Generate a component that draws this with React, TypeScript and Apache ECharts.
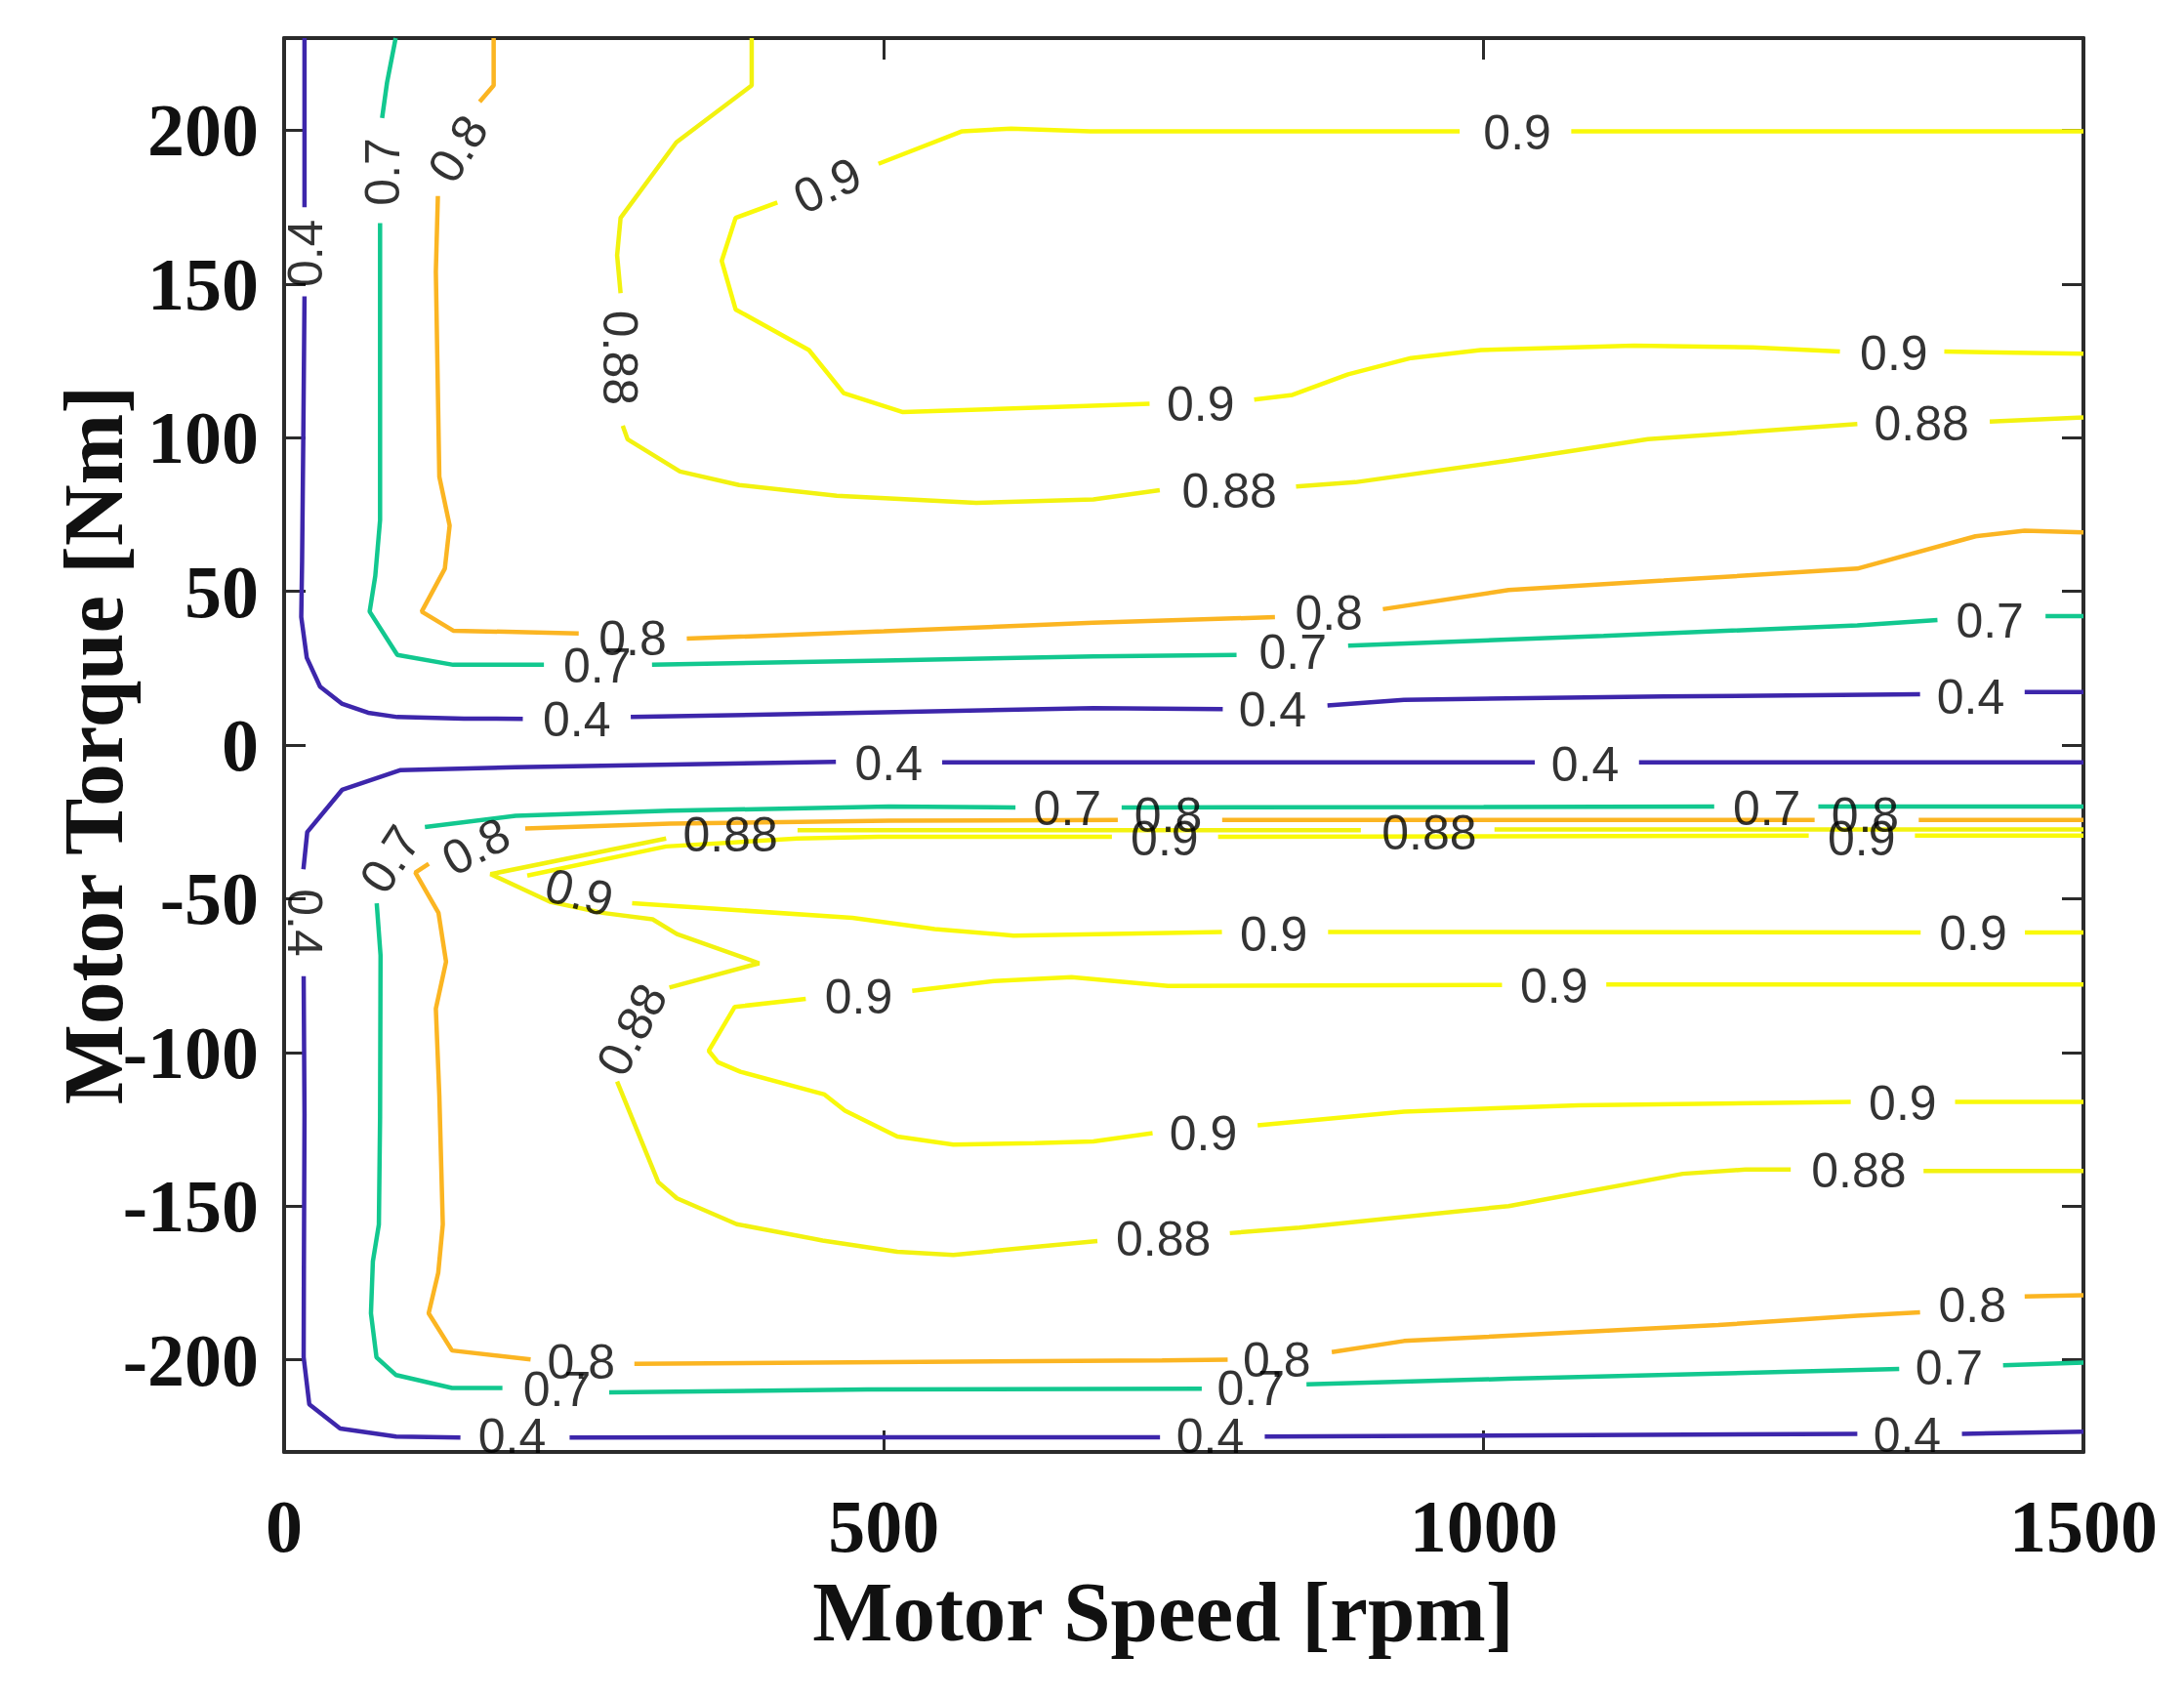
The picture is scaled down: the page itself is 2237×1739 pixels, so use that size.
import { useEffect, useRef } from "react";
import * as echarts from "echarts";

// gap in a contour line (where MATLAB puts the inline label)
const GAP = ["-", "-"];

// contour lines, [speed rpm, torque Nm]
const eff040Upper = [[17, 230], [17, 175], GAP, [17, 146], [16, 100], [15, 60], [14.3, 41.6], [18.9, 28.4], [30, 19], [48, 13.5], [70, 10.5], [94.4, 9.1], [150, 8.6], [199, 8.5], GAP, [289, 9.1], [480, 10.5], [674.6, 12], [782.5, 11.7], GAP, [869.8, 12.9], [933.6, 14.7], [1150, 15.8], [1363.8, 16.5], GAP, [1451, 17.2], [1500, 17.2]];
const eff040Lower = [[1500, -5.6], [1129.5, -5.6], GAP, [1042.6, -5.6], [548.6, -5.6], GAP, [460, -5.5], [193, -7.2], [96.5, -8.2], [48.3, -14.6], [19.3, -28.3], [16.1, -40.4], GAP, [16.3, -75.2], [17, -120], [16.5, -170], [16.3, -199.2], [21, -214.5], [46.7, -222.4], [93.4, -225], [147, -225.3], GAP, [238, -225.3], [730.2, -225.2], GAP, [817.5, -225], [1311.5, -224.1], GAP, [1398.7, -224.1], [1500, -223.4]];

const eff070Upper = [[93, 230], [85.8, 215.5], [81.7, 204], GAP, [80, 169.8], [80, 120], [80, 73.2], [76, 55], [71.3, 43.4], [94.4, 29.3], [141, 26.1], [216.6, 26.1], GAP, [306.7, 26.1], [500, 27.5], [674.6, 28.8], [794, 29.3], GAP, [887, 32.3], [1100, 35.5], [1311.5, 38.9], [1378.3, 40.7], GAP, [1468.4, 41.9], [1500, 41.9]];
const eff070Lower = [[1500, -20], [1279, -20], GAP, [1192.2, -20], [1000, -20.2], [698.2, -20.3], GAP, [609.7, -20.3], [504.4, -20], [321.7, -21.4], [193, -23], [117.4, -26.7], GAP, [77.2, -51.5], [80.4, -68.4], [80, -121], [79, -156], [74, -168], [72.4, -184.9], [77, -199.2], [93.4, -205], [140, -209.2], [182, -209.2], GAP, [271, -210.6], [486, -209.7], [765, -209.4], GAP, [852.3, -208], [1020.8, -206.2], [1346.4, -203], GAP, [1433, -201.8], [1500, -200.9]];

const eff080Upper = [[174.7, 230], [174.7, 214.6], [163, 209.3], GAP, [128.2, 178.6], [126.5, 154], [129.4, 87.3], [138, 71.4], [134, 57.4], [114.7, 43.4], [141, 37.2], [245.6, 36.3], GAP, [335.7, 34.6], [500, 37], [674.6, 39.8], [826, 41.6], GAP, [916, 44.2], [1020.8, 50.4], [1150, 53.5], [1311.5, 57.4], [1410, 67.9], [1451, 69.7], [1500, 69.2]];
const eff080Lower = [[1500, -24.4], [1362.7, -24.4], GAP, [1275.9, -24.4], [782, -24.4], GAP, [695, -24.4], [504.4, -24.6], [321.7, -25.6], [201, -27.2], GAP, [120.6, -38.6], [109.4, -41.5], [128.7, -54.6], [135, -70.5], [126.5, -85.8], [129.4, -114], [132.3, -156], [128.5, -171.7], [120.5, -184.9], [140, -197], [205.5, -199.9], GAP, [292, -201.3], [732, -200.2], [786.6, -200], GAP, [873.4, -197.5], [933.6, -193.9], [1195.6, -188.7], [1311.5, -185.7], [1363.8, -184.6], GAP, [1451, -179.4], [1500, -179]];

const eff088Upper = [[389.8, 230], [389.8, 214.6], [327, 196.1], [280.5, 171.5], [277.6, 159.3], [280.5, 147], GAP, [282.3, 103.9], [286.3, 99.5], [330, 89], [379.3, 84.6], [460.7, 81.1], [577, 78.8], [674.6, 79.9], [730, 82.9], GAP, [843.6, 84.1], [893, 85.5], [1020.8, 92.5], [1137, 99.5], [1311.5, 104.4], GAP, [1421.9, 105.2], [1500, 106.6]];
const eff088Lower = [[1500, -27.5], [1009, -27.5], GAP, [897.6, -27.7], [428, -27.7], GAP, [318.5, -30.4], [172.1, -42], [221.6, -51], [265.2, -54.6], [307.2, -56.7], [327.5, -61.5], [396, -71], [321.2, -78.9], GAP, [277.6, -109.5], [311.9, -142.2], [327.5, -147.5], [377.3, -155.9], [448.9, -161.2], [511.2, -164.9], [557.9, -165.9], [625.8, -163.3], [678, -161.4], GAP, [788.4, -158.8], [846.5, -157], [1020.8, -150], [1166, -139.5], [1218.3, -138.1], [1256, -138.1], GAP, [1366.7, -138.6], [1500, -138.6]];

const eff090Upper = [[1500, 199.7], [1073, 199.7], GAP, [980, 199.7], [672, 199.7], [606, 200.5], [565.3, 199.7], [495.5, 189.1], GAP, [411.2, 176.5], [376.4, 171.5], [364.8, 157.5], [376.4, 141.7], [437.5, 128.5], [466.5, 114.5], [515.9, 108.3], [674.6, 110.4], [721.5, 111], GAP, [808.7, 112.4], [840.6, 113.9], [887, 120.6], [939.5, 125.9], [997.6, 128.5], [1125.4, 129.9], [1224.3, 129.4], [1297, 128], GAP, [1384, 128], [1500, 127.3]];
const eff090LowerA = [[1500, -29.5], [1359.5, -29.5], GAP, [1271, -29.5], [778.6, -29.9], GAP, [690.1, -29.9], [495.5, -29.9], [427.9, -30.4], [318.5, -33], [202.7, -42.5], GAP, [290.1, -51.5], [473.8, -56.2], [542.3, -59.9], [608.1, -62], [781.8, -60.8], GAP, [870.3, -60.8], [1364.3, -61], GAP, [1451.2, -61], [1500, -61]];
const eff090LowerB = [[1500, -77.9], [1102.2, -77.9], GAP, [1015.3, -78.1], [1000, -78.1], [736.8, -78.4], [656.4, -75.5], [592, -76.8], [523.6, -80], GAP, [434.9, -82.6], [375.7, -85.2], [354, -99.5], [361.7, -103.2], [380.4, -106.3], [450.5, -113.7], [467.6, -119], [511.2, -127.4], [557.9, -130], [625.8, -129.5], [674.6, -129], [724, -126.3], GAP, [811.6, -123.7], [933.6, -119.3], [1079, -117.2], [1306, -116.1], GAP, [1393, -116.1], [1500, -116.1]];

// inline contour labels: [speed, torque, rotation deg]
const labels040 = [[18, 160, 90], [244, 8.2, 0], [824, 11.4, 0], [1406, 15.6, 0], [16.7, -57.8, -90], [504, -6, 0], [1084.5, -6.5, 0], [190, -225, 0], [772, -225, 0], [1353, -224.7, 0]];
const labels070 = [[82, 186.5, 90], [261, 25.8, 0], [841, 30.2, 0], [1422, 40.4, 0], [88.5, -37.2, 57], [653, -20.7, 0], [1236, -20.7, 0], [227.5, -209.7, 0], [806, -209.4, 0], [1388, -202.7, 0]];
const labels080 = [[145, 194, 58], [290.5, 34.5, 0], [871, 43, 0], [160, -33, 28], [737, -23, 0], [1318, -23, 0], [247.6, -200.8, 0], [827.6, -200, 0], [1407.4, -182.5, 0]];
const labels088 = [[280, 126, -90], [788, 82.6, 0], [1365, 104.4, 0], [372, -29.3, 0], [954.6, -28.5, 0], [290, -92.6, 62], [733, -160.6, 0], [1312.7, -138.6, 0]];
const labels090 = [[453, 182, 25], [1028, 199.3, 0], [764, 110.8, 0], [1342, 127.3, 0], [246, -48, -15], [734, -30.6, 0], [1315, -30.4, 0], [825, -61.5, 0], [1408, -61.2, 0], [479, -82, 0], [1058.7, -78.4, 0], [766.3, -126.3, 0], [1349.3, -116.6, 0]];

const speedTicks = [0, 500, 1000, 1500];
const torqueTicks = [-200, -150, -100, -50, 0, 50, 100, 150, 200];

const C040 = "#3d26ab";
const C070 = "#12c88f";
const C080 = "#fbb522";
const C088 = "#f2f210";
const C090 = "#f9f90a";

const FRAME = "#2b2b2b";
const SERIF = "'Liberation Serif', 'Times New Roman', serif";
const SANS = "'Liberation Sans', Arial, sans-serif";

export default function App() {
    const chartRef = useRef<HTMLDivElement | null>(null);

    useEffect(() => {
        if (!chartRef.current) return;
        document.body.style.margin = "0";
        const chart = echarts.init(chartRef.current, undefined, { renderer: "svg" });

        const contour = (data: any[], color: string) => ({
            type: "line",
            data,
            symbol: "none",
            connectNulls: false,
            silent: true,
            clip: true,
            lineStyle: { color, width: 4.5 },
            z: 2,
        });

        const labelItems = [
            ...labels040.map((l) => ["0.4", l] as const),
            ...labels070.map((l) => ["0.7", l] as const),
            ...labels080.map((l) => ["0.8", l] as const),
            ...labels088.map((l) => ["0.88", l] as const),
            ...labels090.map((l) => ["0.9", l] as const),
        ].map(([txt, l]) => ({
            name: txt,
            value: [l[0], l[1]],
            label: { rotate: l[2] },
        }));

        const frameAxis = {
            axisLine: { show: true, onZero: false, lineStyle: { color: FRAME, width: 4 } },
            axisTick: { show: true, inside: true, length: 22, lineStyle: { color: FRAME, width: 3 } },
            splitLine: { show: false },
        };

        const option: any = {
            animation: false,
            backgroundColor: "#ffffff",
            grid: { left: 291, right: 103, top: 39, bottom: 252 },
            xAxis: [
                {
                    type: "value",
                    position: "bottom",
                    min: 0,
                    max: 1500,
                    interval: 500,
                    ...frameAxis,
                    axisLabel: {
                        margin: 38,
                        color: "#111111",
                        fontFamily: SERIF,
                        fontWeight: "bold",
                        fontSize: 76,
                        showMinLabel: true,
                        showMaxLabel: true,
                        customValues: speedTicks,
                        formatter: (v: number) => String(v),
                    },
                    name: "Motor Speed [rpm]",
                    nameLocation: "middle",
                    nameGap: 120,
                    nameMoveOverlap: false,
                    nameTextStyle: { color: "#111111", fontFamily: SERIF, fontWeight: "bold", fontSize: 87, padding: [0, 42, 0, 0] },
                },
                {
                    type: "value",
                    position: "top",
                    min: 0,
                    max: 1500,
                    interval: 500,
                    ...frameAxis,
                    axisLabel: { show: false },
                },
            ],
            yAxis: [
                {
                    type: "value",
                    position: "left",
                    min: -230,
                    max: 230,
                    ...frameAxis,
                    axisTick: { ...frameAxis.axisTick, customValues: torqueTicks },
                    axisLabel: {
                        margin: 26,
                        color: "#111111",
                        fontFamily: SERIF,
                        fontWeight: "bold",
                        fontSize: 76,
                        customValues: torqueTicks,
                        formatter: (v: number) => String(v),
                    },
                    name: "Motor Torque [Nm]",
                    nameLocation: "middle",
                    nameGap: 152,
                    nameMoveOverlap: false,
                    nameTextStyle: { color: "#111111", fontFamily: SERIF, fontWeight: "bold", fontSize: 87 },
                },
                {
                    type: "value",
                    position: "right",
                    min: -230,
                    max: 230,
                    ...frameAxis,
                    axisTick: { ...frameAxis.axisTick, customValues: torqueTicks },
                    axisLabel: { show: false },
                },
            ],
            series: [
                contour(eff040Upper, C040),
                contour(eff040Lower, C040),
                contour(eff070Upper, C070),
                contour(eff070Lower, C070),
                contour(eff080Upper, C080),
                contour(eff080Lower, C080),
                contour(eff088Upper, C088),
                contour(eff088Lower, C088),
                contour(eff090Upper, C090),
                contour(eff090LowerA, C090),
                contour(eff090LowerB, C090),
                {
                    type: "scatter",
                    data: labelItems,
                    symbol: "circle",
                    symbolSize: 1,
                    silent: true,
                    itemStyle: { color: "rgba(0,0,0,0)" },
                    label: {
                        show: true,
                        position: "inside",
                        formatter: "{b}",
                        color: "#000000",
                        fontFamily: SANS,
                        fontSize: 50,
                    },
                    z: 5,
                },
            ],
        };

        chart.setOption(option);

        return () => {
            chart.dispose();
        };
    }, []);

    return <div ref={chartRef} style={{ width: 2237, height: 1739 }} />;
}
